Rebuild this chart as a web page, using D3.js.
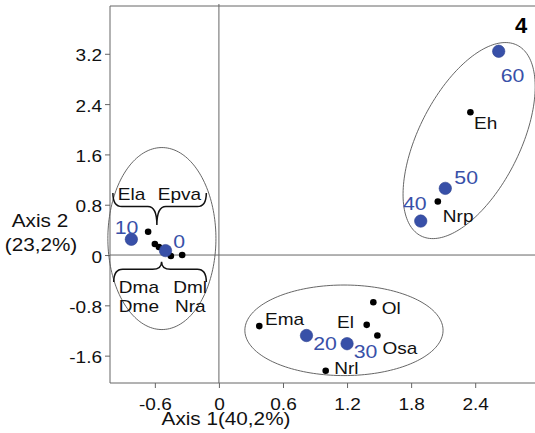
<!DOCTYPE html>
<html>
<head>
<meta charset="utf-8">
<script src="https://cdn.jsdelivr.net/npm/d3@7"></script>
<style>
  body { margin: 0; background: #fff; }
  text { font-family: "Liberation Sans", Arial, sans-serif; }
</style>
</head>
<body>
<div id="container"></div>
<script>
// tick values
const xTicks = [-0.6, 0, 0.6, 1.2, 1.8, 2.4];
const yTicks = [-1.6, -0.8, 0, 0.8, 1.6, 2.4, 3.2];

// sample groups (blue)
const groupNames = ["0", "10", "20", "30", "40", "50", "60"];
const groupX = [-0.5, -0.82, 0.82, 1.2, 1.89, 2.12, 2.62];
const groupY = [0.07, 0.25, -1.28, -1.41, 0.54, 1.06, 3.24];

// labelled variables (black)
const varNames = ["Eh", "Nrp", "Ema", "Ol", "El", "Osa", "Nrl"];
const varX = [2.355, 2.05, 0.378, 1.446, 1.384, 1.484, 1.0];
const varY = [2.27, 0.85, -1.13, -0.75, -1.11, -1.28, -1.84];

// the crowded variables near the origin, named with braces
const clusterNames = ["Ela", "Epva", "Dma", "Dme", "Dml", "Nra"];
const clusterX = [-0.663, -0.6, -0.5, -0.562, -0.45, -0.344];
const clusterY = [0.37, 0.175, 0.06, 0.127, -0.016, 0.0];

// ellipses: centre and two conjugate semi-axes, in axis units
const ellipseCx = [-0.534, 1.171, 2.343];
const ellipseCy = [0.262, -1.197, 1.82];
const ellipseA = [[0.506, 0], [0.928, 0], [0.451, 1.516]];
const ellipseB = [[0, 1.447], [0, 0.72], [0.4235, -0.3628]];

const width = 535;
const height = 433;
const stretch = 1.12; // the source lettering is a little wide

const blue = "#3850a8";

const svg = d3
  .select("#container")
  .append("svg")
  .attr("width", width)
  .attr("height", height);

const x = d3.scaleLinear().domain([-1.02, 2.96]).range([110, 535]);
const y = d3.scaleLinear().domain([-2.035, 3.96]).range([383, 6]);

const addText = (parent, px, py, str, size, anchor = "start", fill = "#111") =>
  parent
    .append("text")
    .attr("transform", `translate(${px},${py}) scale(${stretch},1)`)
    .attr("text-anchor", anchor)
    .attr("font-size", size)
    .attr("fill", fill)
    .text(str);

// frame, open on the right
const [x0, x1] = x.range();
const [yb, yt] = y.range();
svg
  .append("path")
  .attr("d", `M${x1 + 5},${yt}H${x0}V${yb}H${x1 + 5}`)
  .attr("fill", "none")
  .attr("stroke", "#666")
  .attr("stroke-width", 1);

// zero lines
svg
  .append("line")
  .attr("x1", x(0))
  .attr("x2", x(0))
  .attr("y1", yt - 2)
  .attr("y2", yb)
  .attr("stroke", "#666");
svg
  .append("line")
  .attr("x1", x0)
  .attr("x2", x1 + 5)
  .attr("y1", y(0))
  .attr("y2", y(0))
  .attr("stroke", "#666");

// axes
const fmt = (d) => String(d);

const xAxis = svg
  .append("g")
  .attr("transform", `translate(0,${yb})`)
  .call(d3.axisBottom(x).tickValues(xTicks).tickSize(5).tickFormat(fmt));
xAxis.select(".domain").remove();
xAxis.selectAll("line").attr("stroke", "#666");
xAxis
  .selectAll("text")
  .attr("y", 27)
  .attr("dy", 0)
  .attr("transform", `scale(${stretch},1)`)
  .attr("font-size", 17)
  .attr("font-family", "Liberation Sans, Arial, sans-serif")
  .attr("fill", "#111");

const yAxis = svg
  .append("g")
  .attr("transform", `translate(${x0},0)`)
  .call(d3.axisLeft(y).tickValues(yTicks).tickSize(5).tickFormat(fmt));
yAxis.select(".domain").remove();
yAxis.selectAll("line").attr("stroke", "#666");
yAxis
  .selectAll("text")
  .attr("x", -8 / stretch)
  .attr("dy", "0.42em")
  .attr("transform", `scale(${stretch},1)`)
  .attr("font-size", 17)
  .attr("font-family", "Liberation Sans, Arial, sans-serif")
  .attr("fill", "#111");

// axis titles
addText(svg, 226, 424.5, "Axis 1(40,2%)", 18.5, "middle");
addText(svg, 40, 226.7, "Axis 2", 18.5, "middle");
addText(svg, 41, 251, "(23,2%)", 18.5, "middle");

// panel number
svg
  .append("text")
  .attr("x", 515)
  .attr("y", 33)
  .attr("font-family", "Liberation Serif, serif")
  .attr("font-weight", "bold")
  .attr("font-size", 22)
  .text("4");

// ellipses
const ellipsePath = d3
  .line()
  .x((p) => x(p[0]))
  .y((p) => y(p[1]))
  .curve(d3.curveLinearClosed);

ellipseCx.forEach((cx, i) => {
  const pts = d3.range(0, 2 * Math.PI, Math.PI / 90).map((t) => [
    cx + ellipseA[i][0] * Math.cos(t) + ellipseB[i][0] * Math.sin(t),
    ellipseCy[i] + ellipseA[i][1] * Math.cos(t) + ellipseB[i][1] * Math.sin(t),
  ]);
  svg
    .append("path")
    .attr("d", ellipsePath(pts))
    .attr("fill", "none")
    .attr("stroke", "#555")
    .attr("stroke-width", 0.9);
});

// braces around the crowded names (axis units)
const braces = [
  { x1: -0.993, x2: -0.118, yH: 0.77, yE: 0.986, tx: -0.581, ty: 0.477 },
  { x1: -0.985, x2: -0.118, yH: -0.228, yE: -0.43, tx: -0.537, ty: -0.107 },
];
const r = 9;
braces.forEach((b) => {
  const X1 = x(b.x1), X2 = x(b.x2), XT = x(b.tx);
  const YH = y(b.yH), YE = y(b.yE), YT = y(b.ty);
  const d =
    `M${X1},${YE}Q${X1},${YH} ${X1 + r},${YH}` +
    `L${XT - r},${YH}Q${XT},${YH} ${XT},${YT}` +
    `Q${XT},${YH} ${XT + r},${YH}` +
    `L${X2 - r},${YH}Q${X2},${YH} ${X2},${YE}`;
  svg
    .append("path")
    .attr("d", d)
    .attr("fill", "none")
    .attr("stroke", "#111")
    .attr("stroke-width", 1.5);
});

// names attached to the braces (axis units of the text start)
const clusterLabelX = [-0.947, -0.572, -0.937, -0.937, -0.428, -0.412];
const clusterLabelY = [0.874, 0.874, -0.609, -0.901, -0.609, -0.901];
clusterNames.forEach((n, i) =>
  addText(svg, x(clusterLabelX[i]), y(clusterLabelY[i]), n, 17)
);

// black variable dots
svg
  .append("g")
  .selectAll("circle")
  .data(clusterX.map((v, i) => [v, clusterY[i]]).concat(varX.map((v, i) => [v, varY[i]])))
  .join("circle")
  .attr("cx", (d) => x(d[0]))
  .attr("cy", (d) => y(d[1]))
  .attr("r", 3.3)
  .attr("fill", "#000");

// label offsets in pixels from each dot
const varOffset = {
  Eh: [3.7, 16.3, "start"],
  Nrp: [5, 20, "start"],
  Ema: [5.7, -1, "start"],
  Ol: [8.4, 11.7, "start"],
  El: [-12.7, 3.3, "end"],
  Osa: [5, 18, "start"],
  Nrl: [8.6, 3, "start"],
};
varNames.forEach((n, i) => {
  const [dx, dy, a] = varOffset[n];
  addText(svg, x(varX[i]) + dx, y(varY[i]) + dy, n, 17, a);
});

// blue group circles
svg
  .append("g")
  .selectAll("circle")
  .data(groupNames.map((n, i) => [groupX[i], groupY[i]]))
  .join("circle")
  .attr("cx", (d) => x(d[0]))
  .attr("cy", (d) => y(d[1]))
  .attr("r", 6.2)
  .attr("fill", blue)
  .attr("stroke", "#2b3f8e")
  .attr("stroke-width", 0.6);

const groupOffset = {
  0: [7.6, -3],
  10: [-16.7, -5],
  20: [6.7, 14.3],
  30: [6.7, 14],
  40: [-17.7, -11.4],
  50: [9, -4],
  60: [2, 31],
};
groupNames.forEach((n, i) => {
  const [dx, dy] = groupOffset[n];
  addText(svg, x(groupX[i]) + dx, y(groupY[i]) + dy, n, 19, "start", blue);
});
</script>
</body>
</html>
